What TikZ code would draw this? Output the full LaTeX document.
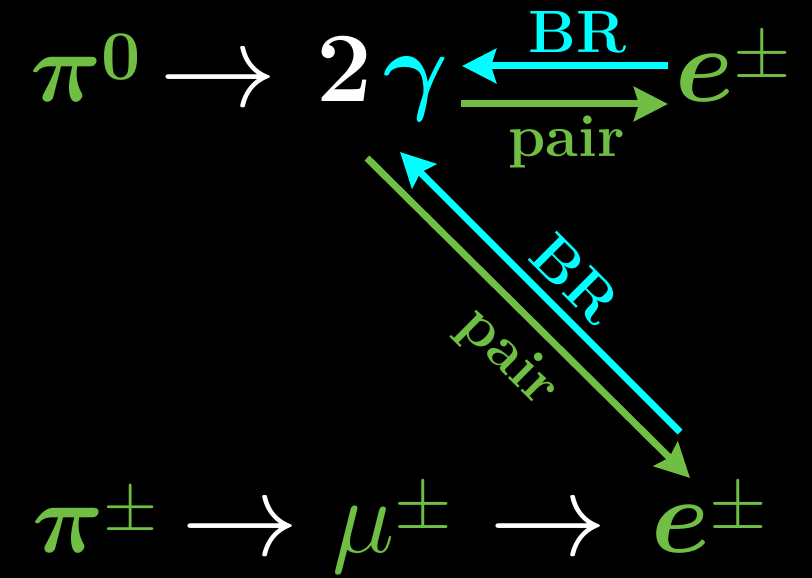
\RequirePackage{fix-cm}
\documentclass[tikz,border=0pt]{standalone}
\usepackage{amsmath,bm}
\usetikzlibrary{arrows.meta,positioning}

\definecolor{pgreen}{RGB}{112,190,68}
\definecolor{pcyan}{RGB}{0,255,255}
\newcommand*{\picw}{812}
\newcommand*{\pich}{578}
% superscript set a bit lower than TeX puts it
\newcommand*{\lsup}[1]{^{\raisebox{-14bp}{$\scriptstyle#1$}}}

\begin{document}
\begin{tikzpicture}
[
	x=1bp,
	y=1bp,
	every node/.style={text=white,inner sep=0pt},
	bigmath/.style={font=\fontsize{100}{110}\selectfont,anchor=base west},
	letter/.style={font=\fontsize{106}{110}\selectfont,anchor=base west},
	bigarrow/.style={font=\fontsize{118}{120}\selectfont,anchor=base west},
	lbl/.style={font=\fontsize{60}{66}\selectfont\bfseries,sloped},
	pairarrow/.style={pgreen,line width=7bp,-{Stealth[length=34bp,width=34bp,inset=5bp]}},
	brarrow/.style={pcyan,line width=7bp,{Stealth[length=34bp,width=34bp,inset=5bp]}-}
]

	% background
	\fill[black] (0,0) rectangle (\picw,\pich);

	% top row
	\node[bigmath] (pizero) at (30,476) {${\color{pgreen}\bm{\pi}\lsup{\bm{0}}}$};
	\node[bigarrow] (arr1) at (159,471.5) {$\rightarrow$};
	\node[bigmath] (gam) at (316,476) {$\mathbf{2}\mkern2mu{\color{pcyan}\bm{\gamma}}$};
	\node[letter] (etop) at (675,476) {${\color{pgreen}\bm{e}\lsup{\pm}}$};

	% bottom row
	\node[bigmath] (pipm) at (32,25) {${\color{pgreen}\bm{\pi}\lsup{\pm}}$};
	\node[bigarrow] (arr2) at (181,22) {$\rightarrow$};
	\node[letter] (mu) at (332,25) {${\color{pgreen}\mu\lsup{\pm}}$};
	\node[bigarrow] (arr3) at (489,22) {$\rightarrow$};
	\node[letter] (ebot) at (651,25) {${\color{pgreen}\bm{e}\lsup{\pm}}$};

	% gamma <-> e
	\draw[brarrow] ([shift={(146,36)}]gam.base west) -- node[lbl,text=pcyan,pos=0.56,above=9bp] {BR} ([shift={(-7,36)}]etop.base west);
	\draw[pairarrow] ([shift={(145,-2)}]gam.base west) -- node[lbl,text=pgreen,pos=0.51,below=8bp] {pair} ([shift={(-7,-2)}]etop.base west);

	% gamma <-> e (from muon)
	\draw[pairarrow] ([shift={(51,-56)}]gam.base west) -- node[lbl,text=pgreen,pos=0.53,below=13bp] {pair} ([shift={(39,75)}]ebot.base west);
	\draw[brarrow] ([shift={(84,-50)}]gam.base west) -- node[lbl,text=pcyan,pos=0.54,above=10bp] {BR} ([shift={(29,121)}]ebot.base west);

\end{tikzpicture}
\end{document}
